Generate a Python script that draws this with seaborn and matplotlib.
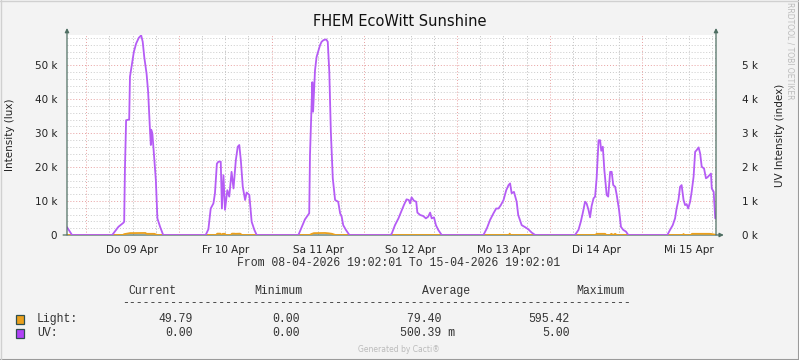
import numpy as np
import pandas as pd
import matplotlib
matplotlib.use('Agg')
import matplotlib.pyplot as plt
import seaborn as sns

# x = hours since 08-04-2026 19:02:01
uv_hours = [0, 1.3,
            11.7, 13.3, 14.6, 14.8, 15.0, 15.3, 16.1, 16.3, 16.9, 17.3, 17.9, 18.6, 19.2, 19.6, 20.0, 20.6,
            21.0, 21.5, 21.7, 21.8, 22.1, 22.5, 23.0, 23.4, 24.1, 24.9,
            35.9, 36.6, 37.2, 37.9, 38.3, 38.8, 39.2, 39.8, 40.1, 40.5, 40.9, 41.5, 42.0, 42.6, 43.1, 43.7,
            44.2, 44.6, 45.0, 45.5, 46.1, 46.5, 47.2, 47.8, 48.5, 49.1,
            59.9, 60.8, 61.6, 62.5, 62.7, 62.9, 63.4, 63.5, 63.7, 64.2, 64.6, 65.1, 65.5, 65.9, 66.4, 67.1,
            67.5, 67.9, 68.3, 68.8, 69.4, 70.2, 70.7, 71.1, 71.5, 72.2, 73.1,
            83.8, 84.1, 84.9, 85.8, 86.7, 87.2, 87.9, 88.5, 88.8, 89.2, 89.8, 90.4, 90.7, 91.4, 92.2, 92.9,
            93.5, 94.0, 94.4, 95.0, 95.5, 96.1, 97.0,
            107.8, 108.7, 109.5, 110.4, 111.1, 111.7, 112.3, 113.0, 113.7, 114.3, 114.7, 115.1, 115.7, 116.4,
            116.8, 117.7, 118.6, 119.4, 120.3, 121.2,
            131.5, 132.4, 133.0, 133.5, 134.1, 134.5, 135.0, 135.4, 135.8, 136.3, 136.7, 137.1, 137.6, 138.0,
            138.3, 138.7, 139.1, 139.7, 140.1, 140.6, 141.0, 141.4, 141.9, 142.3, 142.9, 143.4, 144.0, 144.7, 145.3,
            155.4, 156.1, 156.8, 157.4, 157.8, 158.3, 158.7, 159.1, 159.6, 160.0, 160.4, 160.8, 161.3, 161.7,
            162.2, 162.6, 163.0, 163.5, 163.9, 164.3, 164.9, 165.4, 165.8, 166.3, 166.7, 166.9, 167.4, 167.8, 168.0]
# UV line, in thousands on the lux scale
uv_k = [2.3, 0,
        0, 2.4, 3.6, 3.9, 19.6, 33.8, 34.0, 46.6, 51.0, 53.9, 56.4, 58.1, 58.8, 56.9, 52.4, 47.5,
        42.2, 30.4, 26.5, 31.0, 29.9, 24.0, 16.2, 4.9, 2.4, 0,
        0, 1.7, 7.8, 9.3, 12.3, 21.0, 21.6, 21.6, 7.8, 17.6, 7.4, 13.2, 11.3, 18.6, 13.7, 22.0,
        26.0, 26.5, 22.0, 14.2, 10.3, 12.5, 11.8, 3.9, 1.5, 0,
        0, 2.4, 4.6, 6.1, 6.4, 23.5, 40.7, 45.0, 36.3, 48.5, 52.4, 54.4, 55.9, 56.9, 57.4, 57.6,
        56.9, 48.0, 30.4, 16.7, 10.3, 9.8, 6.4, 5.4, 2.9, 1.5, 0,
        0, 0.5, 2.9, 4.9, 7.4, 8.8, 10.5, 10.3, 9.3, 11.1, 10.1, 9.8, 6.6, 5.9, 5.6, 4.9,
        5.4, 6.6, 4.9, 5.2, 2.9, 1.5, 0,
        0, 2.0, 4.4, 6.4, 7.8, 7.8, 8.8, 10.3, 13.2, 14.7, 15.2, 12.3, 12.7, 9.8,
        5.9, 2.9, 2.3, 1.7, 0.7, 0,
        0, 1.5, 3.9, 6.4, 9.8, 9.3, 7.4, 5.2, 8.5, 10.8, 11.3, 16.7, 27.9, 27.9,
        24.8, 26.0, 19.1, 11.8, 11.3, 18.6, 18.6, 14.7, 14.2, 11.8, 7.4, 2.4, 1.5, 1.0, 0,
        0, 1.5, 2.9, 4.9, 7.8, 10.5, 14.2, 14.7, 10.3, 8.8, 9.1, 7.8, 9.8, 12.7,
        17.2, 24.5, 25.0, 25.8, 24.0, 20.1, 19.6, 16.7, 17.0, 17.6, 18.1, 13.7, 12.7, 4.9, 4.9]

light_hours = [0, 14.5, 14.8, 15.3, 16.3, 20.3, 20.6, 22.6, 23.4,
               38.6, 38.9, 39.7, 40.0, 40.3, 40.9, 41.1, 42.4, 42.7, 43.3, 43.6, 44.8, 45.3,
               62.8, 63.3, 63.9, 66.8, 67.7, 68.6, 69.5,
               114.4, 114.6, 114.8,
               136.8, 137.1, 139.3, 139.6, 140.6, 140.9, 141.4, 141.9, 142.3,
               159.4, 159.6, 159.8, 161.5, 161.8, 166.3, 166.8, 168.0]
light_lux = [0, 0, 250, 350, 560, 595, 350, 350, 0,
             0, 400, 400, 0, 350, 350, 0, 0, 400, 400, 350, 400, 0,
             0, 300, 550, 595, 500, 350, 0,
             0, 400, 0,
             0, 350, 350, 0, 0, 350, 0, 350, 0,
             0, 300, 0, 0, 350, 350, 300, 50]

day_labels = ['Do 09 Apr', 'Fr 10 Apr', 'Sa 11 Apr', 'So 12 Apr', 'Mo 13 Apr', 'Di 14 Apr', 'Mi 15 Apr']
lux_ticks = [0, 10000, 20000, 30000, 40000, 50000]
lux_labels = ['0', '10 k', '20 k', '30 k', '40 k', '50 k']
uv_ticks = [0, 1, 2, 3, 4, 5]
uv_labels = ['0 k', '1 k', '2 k', '3 k', '4 k', '5 k']

series_names = ['Light:', 'UV:']
series_colors = ['#EBA01C', '#B142F7']
stat_heads = ['Current', 'Minimum', 'Average', 'Maximum']
light_stats = ['49.79', '0.00', '79.40  ', '595.42']
uv_stats = ['0.00', '0.00', '500.39 m', '5.00']

start = pd.Timestamp('2026-04-08 19:02:01')
midnights = [(pd.Timestamp('2026-04-%02d' % d) - start) / pd.Timedelta('1h') for d in range(9, 16)]

uv = pd.DataFrame({'h': uv_hours, 'v': np.array(uv_k) * 1000})
light = pd.DataFrame({'h': light_hours, 'v': light_lux})

W, H = 799, 360
def fx(x): return x / W
def fy(y): return 1 - y / H

sns.set_style('white')
plt.rcParams['font.family'] = ['DejaVu Sans']
fig = plt.figure(figsize=(W / 100, H / 100), dpi=100, facecolor='#F3F3F3')
ax = fig.add_axes([fx(67), fy(235), (716 - 67) / W, (235 - 35) / H])
ax.set_facecolor('white')

ymax = 58900
ax.set_xlim(0, 168)
ax.set_ylim(0, ymax)

# grid (rrdtool style)
dot = (0, (1, 2))
for v in np.arange(2000, ymax, 2000):
    if v % 10000:
        ax.axhline(v, color='#CACACA', lw=0.7, ls=dot, zorder=0)
for v in lux_ticks[1:]:
    ax.axhline(v, color='#E8A0A0', lw=0.7, ls=dot, zorder=0)
for m in midnights:
    for k in (-18, -12, -6, 6, 12, 18):
        if 0 < m + k < 168 and (m + k) not in midnights:
            ax.axvline(m + k, color='#CACACA', lw=0.7, ls=dot, zorder=0)
    ax.axvline(m, color='#E8A0A0', lw=0.7, ls=dot, zorder=0)

sns.lineplot(data=light, x='h', y='v', ax=ax, color=series_colors[0], lw=1.3, zorder=3)
sns.lineplot(data=uv, x='h', y='v', ax=ax, color='#B55CF5', lw=1.3, zorder=4)

ax.set_xlabel('')
ax.set_ylabel('Intensity (lux)', fontsize=7.5, color='#222222', labelpad=14)
ax.set_xticks([m + 12 for m in midnights if m + 12 < 168])
ax.set_xticklabels(day_labels[:len(ax.get_xticks())], fontsize=7.5, color='#222222')
ax.set_yticks(lux_ticks)
ax.set_yticklabels(lux_labels, fontsize=7.5, color='#222222')
ax.tick_params(length=0, pad=7)
for s in ax.spines.values():
    s.set_visible(False)

ax2 = ax.twinx()
ax2.set_ylim(0, ymax / 10000)
ax2.set_yticks(uv_ticks)
ax2.set_yticklabels(uv_labels, fontsize=7.5, color='#222222')
ax2.tick_params(length=0, pad=19)
ax2.set_ylabel('UV Intensity (index)', fontsize=7.5, color='#222222', labelpad=12)
for s in ax2.spines.values():
    s.set_visible(False)

# axis arrows
acol = '#4F6F63'
arr = dict(arrowstyle='-|>', color=acol, lw=0.9, mutation_scale=6, shrinkA=0, shrinkB=0)
ax.annotate('', xy=(0, 1.035), xytext=(0, 0), xycoords='axes fraction', arrowprops=arr, zorder=6)
ax.annotate('', xy=(1, 1.035), xytext=(1, 0), xycoords='axes fraction', arrowprops=arr, zorder=6)
ax.annotate('', xy=(1.012, 0), xytext=(-0.006, 0), xycoords='axes fraction', arrowprops=arr, zorder=2)

fig.text(fx(400), fy(22), 'FHEM EcoWitt Sunshine', ha='center', va='center', fontsize=10.5, color='#111111')
fig.text(fx(790), fy(51), 'RRDTOOL / TOBI OETIKER', ha='center', va='center', rotation=-90,
         fontsize=5.5, color='#BBBBBB')

mono = 'Liberation Mono'
tc = '#333333'
fs = 8.3
fig.text(fx(399), fy(263), 'From 08-04-2026 19:02:01 To 15-04-2026 19:02:01', ha='center', va='center',
         family=mono, fontsize=fs, color=tc)
for head, x in zip(stat_heads, [128, 254, 422, 576]):
    fig.text(fx(x), fy(291), head, ha='left', va='center', family=mono, fontsize=fs, color=tc)
fig.text(fx(122), fy(303), '-' * 74, ha='left', va='center', family=mono, fontsize=fs, color=tc)

for row, (name, col, stats) in enumerate(zip(series_names, series_colors, [light_stats, uv_stats])):
    y = 319 + row * 14
    fig.patches.append(plt.Rectangle((fx(15.5), fy(y + 4.7)), 8.5 / W, 9 / H, transform=fig.transFigure,
                                     facecolor=col, edgecolor='#2F4F4F', lw=0.9))
    fig.text(fx(37), fy(y), name, ha='left', va='center', family=mono, fontsize=fs, color=tc)
    for val, x in zip(stats, [193, 299.5, 455, 569.5]):
        fig.text(fx(x), fy(y), val, ha='right', va='center', family=mono, fontsize=fs, color=tc)

fig.text(fx(399), fy(349), 'Generated by Cacti®', ha='center', va='center', fontsize=5.5, color='#BBBBBB')

# frame
fig.add_artist(plt.Line2D([0, 1], [fy(359.5), fy(359.5)], transform=fig.transFigure, color='#9A9A9A', lw=1.5))
fig.add_artist(plt.Line2D([fx(798.5), fx(798.5)], [0, 1], transform=fig.transFigure, color='#9A9A9A', lw=1.5))
fig.add_artist(plt.Line2D([0, 1], [fy(0.5), fy(0.5)], transform=fig.transFigure, color='#D0D0D0', lw=1))
fig.add_artist(plt.Line2D([fx(0.5), fx(0.5)], [0, 1], transform=fig.transFigure, color='#D0D0D0', lw=1))

fig.savefig('out.png', dpi=100, facecolor=fig.get_facecolor())
